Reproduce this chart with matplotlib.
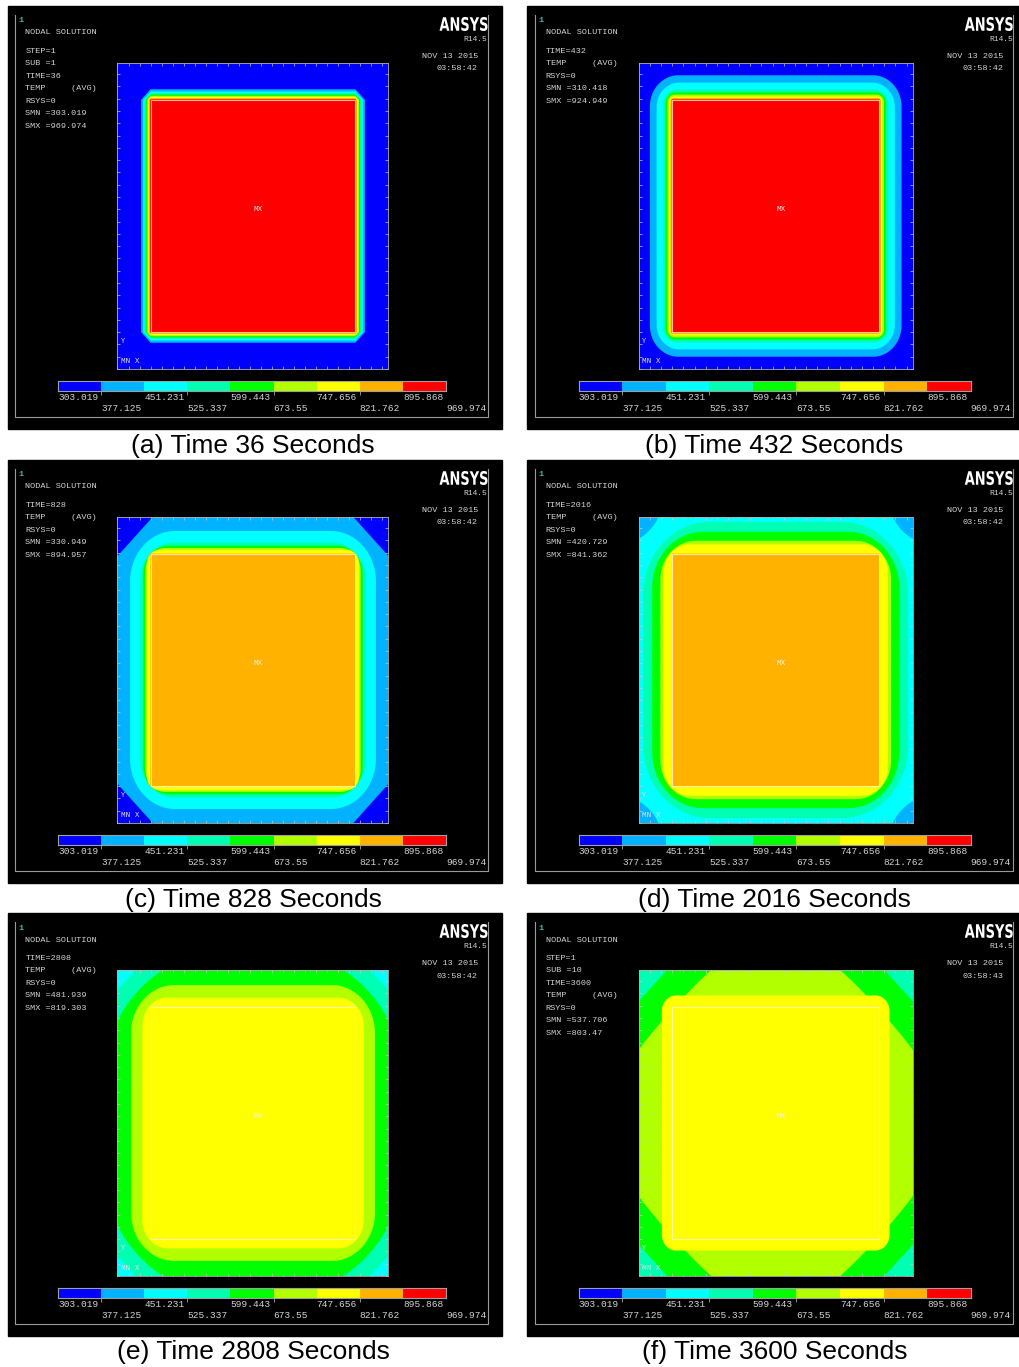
import numpy as np
import matplotlib.pyplot as plt
from matplotlib.patches import Rectangle, Polygon, PathPatch
from matplotlib.textpath import TextPath
from matplotlib.font_manager import FontProperties
from matplotlib.transforms import Affine2D

# ANSYS TEMP legend: 9 bands
level_labels = ['303.019', '377.125', '451.231', '525.337', '599.443',
                '673.55', '747.656', '821.762', '895.868', '969.974']
levels = [float(s) for s in level_labels]
band_colors = ['#0000ff', '#00b2ff', '#00ffff', '#00ffb2', '#00ff00',
               '#b2ff00', '#ffff00', '#ffb200', '#ff0000']

captions = ['(a) Time 36 Seconds', '(b) Time 432 Seconds',
            '(c) Time 828 Seconds', '(d) Time 2016 Seconds',
            '(e) Time 2808 Seconds', '(f) Time 3600 Seconds']

info_a = ['STEP=1', 'SUB =1', 'TIME=36', 'TEMP     (AVG)', 'RSYS=0', 'SMN =303.019', 'SMX =969.974']
info_b = ['TIME=432', 'TEMP     (AVG)', 'RSYS=0', 'SMN =310.418', 'SMX =924.949']
info_c = ['TIME=828', 'TEMP     (AVG)', 'RSYS=0', 'SMN =330.949', 'SMX =894.957']
info_d = ['TIME=2016', 'TEMP     (AVG)', 'RSYS=0', 'SMN =420.729', 'SMX =841.362']
info_e = ['TIME=2808', 'TEMP     (AVG)', 'RSYS=0', 'SMN =481.939', 'SMX =819.303']
info_f = ['STEP=1', 'SUB =10', 'TIME=3600', 'TEMP     (AVG)', 'RSYS=0', 'SMN =537.706', 'SMX =803.47']
info_lines = [info_a, info_b, info_c, info_d, info_e, info_f]
clock = ['03:58:42', '03:58:42', '03:58:42', '03:58:42', '03:58:42', '03:58:43']

# isotherm bands, outside -> in:
# (band index, offset outside the core block, corner radius, corner exponent)
bg_band = [0, 0, 0, 1, 2, 3]
bands_a = [(1, 9.5, 9.5, 1), (2, 7.5, 7.5, 1), (3, 6.0, 6.0, 1), (4, 4.8, 4.8, 1),
           (5, 3.6, 3.6, 1), (6, 2.6, 2.6, 1), (7, 1.6, 1.6, 1), (8, 0.5, 0.5, 1)]
bands_b = [(1, 22.0, 28, 2), (2, 15.4, 22, 2), (3, 9.1, 14, 2), (4, 6.7, 10, 2),
           (5, 4.7, 7, 2), (6, 3.0, 5, 2), (7, 1.7, 3, 2), (8, 0.4, 0.4, 2)]
bands_c = [(1, 40.0, 49, 1), (2, 20.5, 45, 2), (3, 10.2, 33, 2), (4, 7.3, 25, 2),
           (5, 5.2, 20, 2), (6, 3.6, 12, 2), (7, 0.3, 0.3, 2)]
bands_d = [(2, 35.0, 22, 0.75), (3, 28.5, 65, 2), (4, 19.7, 50, 2), (5, 11.7, 35, 2),
           (6, 8.5, 25, 2), (7, 0.3, 0.3, 2)]
bands_e = [(3, 40.0, 32, 1), (4, 40.0, 72, 1.5), (5, 19.5, 43, 2), (6, 8.2, 25, 2)]
bands_f = [(4, 40.0, 42, 1), (5, 40.0, 88, 1.1), (6, 10.2, 14, 2)]
all_bands = [bands_a, bands_b, bands_c, bands_d, bands_e, bands_f]

# model block (drawn stretched vertically like the ANSYS window)
BOX_W, BOX_H, CORE_M = 270.0, 274.0, 33.0

FIG_W, FIG_H = 1020, 1367
panel_origin = [(8, 6), (527, 6), (8, 460), (527, 460), (8, 913), (527, 913)]
col_off = [0, 1, 0, 1, 0, 1]
col_scale = [1.0, 1.011, 1.0, 1.011, 1.0, 1.011]

mono = 'Liberation Mono'
txt_c = '#d4d4d4'


def rounded_box(x0, y0, x1, y1, r, n, k=40):
    r = min(r, (x1 - x0) / 2, (y1 - y0) / 2)
    e = 2.0 / n
    xs, ys = [], []
    for q, (cx, cy) in enumerate([(x1 - r, y1 - r), (x0 + r, y1 - r),
                                  (x0 + r, y0 + r), (x1 - r, y0 + r)]):
        t = np.linspace(q * np.pi / 2, (q + 1) * np.pi / 2, k)
        c, s = np.cos(t), np.sin(t)
        xs.append(cx + r * np.sign(c) * np.abs(c) ** e)
        ys.append(cy + r * np.sign(s) * np.abs(s) ** e)
    return np.column_stack([np.concatenate(xs), np.concatenate(ys)])


fig = plt.figure(figsize=(FIG_W / 100, FIG_H / 100), dpi=100, facecolor='white')


def px_axes(left, top, w, h):
    return fig.add_axes([left / FIG_W, 1 - (top + h) / FIG_H, w / FIG_W, h / FIG_H])


base = fig.add_axes([0, 0, 1, 1])
base.set_xlim(0, FIG_W)
base.set_ylim(FIG_H, 0)
base.axis('off')

# narrow, tall "ANSYS" logo as a path
logo = TextPath((0, 0), 'ANSYS', size=10, prop=FontProperties(family='DejaVu Sans', weight='bold'))
lb = logo.get_extents()

for i in range(6):
    px, py = panel_origin[i]
    k_s = col_scale[i]

    def X(rel):
        return px + col_off[i] + rel * k_s

    base.add_patch(Rectangle((px, py), min(494, FIG_W - px), 423, color='black', zorder=0))
    # graphics window frame
    base.plot([X(7), X(7), X(480), X(480)], [py + 9, py + 411, py + 411, py + 9],
              color='#9a9a9a', lw=0.8)
    base.text(X(13), py + 15, '1', color='#3fb5b5', fontsize=6, family=mono,
              ha='center', va='center', weight='bold')
    base.text(X(17.5), py + 27, 'NODAL SOLUTION', color=txt_c, fontsize=6.1,
              family=mono, va='center')
    for j, line in enumerate(info_lines[i]):
        base.text(X(17.5), py + 45.3 + 12.5 * j, line, color=txt_c, fontsize=6.1,
                  family=mono, va='center')
    sx = 48.0 / lb.width
    sy = 14.0 / lb.height
    tr = Affine2D().translate(-lb.x1, -lb.y1).scale(sx, -sy).translate(X(479.5), py + 11)
    base.add_patch(PathPatch(tr.transform_path(logo), facecolor='white', edgecolor='none'))
    base.text(X(479.5), py + 33.7, 'R14.5', color=txt_c, fontsize=5.8,
              family=mono, ha='right', va='center')
    base.text(X(470), py + 50.3, 'NOV 13 2015', color=txt_c, fontsize=6.1,
              family=mono, ha='right', va='center')
    base.text(X(470), py + 63, clock[i], color=txt_c, fontsize=6.1,
              family=mono, ha='right', va='center')
    base.text(px + 245 + 2.5 * col_off[i], py + 439.5, captions[i], color='black',
              fontsize=19, family='Liberation Sans', ha='center', va='center')

    # contour plot of the block
    ax = px_axes(X(109.5), py + 57, 271 * k_s, 306)
    ax.set_xlim(0, BOX_W)
    ax.set_ylim(0, BOX_H)
    ax.set_facecolor(band_colors[bg_band[i]])
    for band, d, r, n in all_bands[i]:
        pts = rounded_box(CORE_M - d, CORE_M - d, BOX_W - CORE_M + d, BOX_H - CORE_M + d, r, n)
        ax.add_patch(Polygon(pts, closed=True, facecolor=band_colors[band],
                             edgecolor='none', antialiased=True))
    ax.add_patch(Rectangle((CORE_M, CORE_M), BOX_W - 2 * CORE_M, BOX_H - 2 * CORE_M,
                           fill=False, edgecolor='#fff8e0', alpha=0.75, lw=0.8))
    ax.set_xticks(np.arange(0, BOX_W, 11))
    ax.set_yticks(np.arange(0, BOX_H, 11))
    ax.tick_params(direction='in', length=2, width=0.5, color='#c8c8c8',
                   labelbottom=False, labelleft=False, top=True, right=True)
    for sp in ax.spines.values():
        sp.set_color('#b0b0b0')
        sp.set_linewidth(0.6)
    ax.text(0.52, 0.52, 'MX', transform=ax.transAxes, fontsize=5.5, color='#f2f2f2',
            family=mono, ha='center', va='center')
    ax.text(0.012, 0.09, 'Y', transform=ax.transAxes, fontsize=5, color='#e0e0e0',
            family=mono, va='center')
    ax.text(0.012, 0.025, 'MN X', transform=ax.transAxes, fontsize=5.5, color='#e0e0e0',
            family=mono, va='center')

    # colour legend
    lg = px_axes(X(50), py + 375, 388 * k_s, 10)
    lg.barh(0.5, np.diff(levels), left=levels[:-1], height=1.0, color=band_colors)
    lg.set_xlim(levels[0], levels[-1])
    lg.set_ylim(0, 1)
    lg.set_yticks([])
    lg.set_xticks(levels[1:-1:2])
    lg.tick_params(axis='x', length=3, width=0.6, color='#a0a0a0', labelbottom=False)
    for sp in lg.spines.values():
        sp.set_color('#a0a0a0')
        sp.set_linewidth(0.8)
    for k, lab in enumerate(level_labels):
        lg.text(levels[k], -0.67 if k % 2 == 0 else -1.73, lab,
                transform=lg.get_xaxis_transform(), color=txt_c, fontsize=6.8,
                family=mono, ha='left', va='center')

fig.savefig('out.png', dpi=100, facecolor='white')
